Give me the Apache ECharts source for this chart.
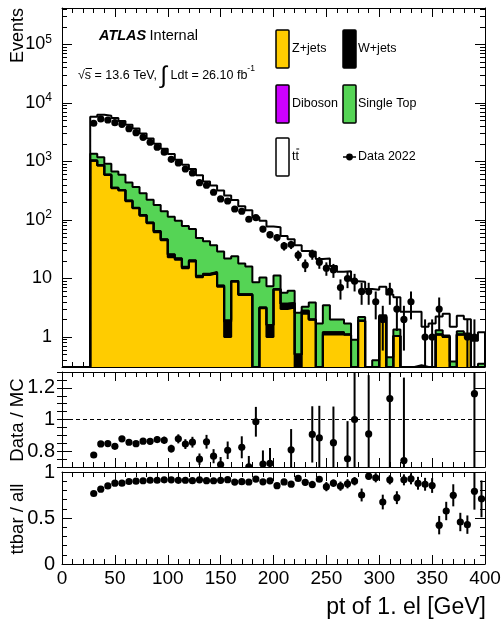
<!DOCTYPE html>
<html>
<head>
<meta charset="utf-8">
<script src="https://cdn.jsdelivr.net/npm/echarts@6.0.0/dist/echarts.min.js"></script>
<style>
  html, body { margin: 0; padding: 0; background: #fff; }
  #chart { width: 502px; height: 629px; }
</style>
</head>
<body>
<div id="chart"></div>
<script>
// Binning: 60 equal bins between 0 and 400 GeV, the arrays below start at bin 4
const X_MIN = 0, X_MAX = 400, N_BINS = 60, FIRST_BIN = 4;

// Event yields per bin (bins 4 ... 59)
const dataCounts = [4500, 5330, 5120, 4610, 4320, 3640, 3110, 2590, 2130, 1750,
  1440, 1090, 942, 744, 636, 434, 392, 298, 229, 211,
  154, 141, 103, 110, 70, 56, 50, 36, 38, 25,
  17, 26, 19, 15, 14, 7, 10, 9, 6, 6,
  4, 2, 6, 3, 2, 4, 0, 1, 1, 3,
  0, 0, 0, 1, 1, 0];
const zJets = [1030, 850, 590, 350, 320, 210, 158, 118, 88, 62,
  45, 23, 21, 15, 19.5, 10.5, 11.5, 12.3, 7.2, 1.0,
  8.8, 5.2, 5.2, 0, 3.1, 1.0, 6.4, 3.0, 3.2, 0,
  2.5, 2.0, 0, 1.1, 1.1, 1.1, 1.1, 0, 1.9, 0,
  0, 2.2, 0, 1.04, 0, 0, 0, 0, 0, 1.1,
  1.0, 0, 1.1, 1.05, 0, 0];
const wJets = [10, 8, 6, 5, 5, 4, 3, 3, 2, 2,
  1.5, 2.5, 0.8, 0.6, 0.6, 0.4, 0.4, 0.4, 0.3, 0.83,
  0.3, 0.2, 0.2, 0, 0.1, 0.6, 0.2, 0.7, 0.6, 0.5,
  0.3, 0, 0, 0.1, 0.1, 0.1, 0, 0, 0, 0,
  0, 0.05, 0, 0, 0, 0, 0, 0, 0, 0,
  0, 0, 0, 0, 0, 0];
const diboson = [2, 2, 2, 1.5, 1.5, 1, 1, 1, 0.8, 0.6,
  0.5, 0.5, 0.4, 0.3, 0.3, 0.2, 0.2, 0.2, 0.1, 0.1,
  0, 0, 0, 0, 0, 0, 0, 0, 0, 0,
  0, 0, 0, 0, 0, 0, 0, 0, 0, 0,
  0, 0, 0, 0, 0, 0, 0, 0, 0, 0,
  0, 0, 0, 0, 0, 0];
const singleTop = [315, 318, 314, 316, 269, 223, 205, 163, 131, 115,
  94, 88, 75, 63, 50, 38, 31, 24, 21.4, 20,
  15, 12.6, 10.6, 8.6, 7.2, 5.8, 4.6, 2.0, 2.4, 2.1,
  0.5, 1.9, 1.7, 2.3, 0.8, 0.8, 0.6, 0.9, 0.3, 0.3,
  0.4, 0.1, 0.45, 0.3, 0.23, 0.2, 0.33, 0.2, 0.25, 0.2,
  0.06, 0.38, 0.15, 0.1, 0.18, 0.35];
const ttbar = [4443, 5122, 5128, 4878, 4325, 3812, 3303, 2715, 2248, 1825,
  1516, 1222, 976, 802, 672, 530, 413, 351, 291, 240,
  196, 153, 131, 103, 87, 70, 64, 47.3, 40.8, 34.4,
  26.2, 24.8, 19.8, 18.5, 14.4, 11.0, 11.6, 8.1, 6.6, 6.3,
  6.0, 4.85, 4.85, 3.46, 2.47, 2.5, 2.37, 1.3, 1.45, 0.95,
  1.44, 1.12, 1.05, 0.86, 0.68, 0.85];
// Simulation statistical uncertainty on the ttbar fraction
const ttbarFracErr = [0.01, 0.01, 0.01, 0.01, 0.01, 0.01, 0.01, 0.01, 0.01, 0.01,
  0.01, 0.01, 0.01, 0.01, 0.01, 0.01, 0.01, 0.015, 0.015, 0.015,
  0.015, 0.015, 0.015, 0.015, 0.02, 0.02, 0.03, 0.025, 0.03, 0.025,
  0.035, 0.04, 0.03, 0.05, 0.04, 0.05, 0.05, 0.045, 0.07, 0.04,
  0.05, 0.08, 0.05, 0.07, 0.06, 0.06, 0.07, 0.07, 0.08, 0.1,
  0.1, 0.12, 0.1, 0.1, 0.2, 0.2];

// Axis ranges and tick labels
const Y_MIN = 0.307, Y_MAX = 4.2e5;
const logTickValues = [1, 10, 100, 1000, 10000, 100000];
const ratioRange = [0.7, 1.3];
const ratioTickValues = [0.8, 1, 1.2];
const fracRange = [0, 1];

const FONT = '"Liberation Sans", Arial, Helvetica, sans-serif';
const BLACK = '#000000';
const COLORS = { z: '#ffcc00', w: '#000000', db: '#cc00ff', st: '#55d455', tt: '#ffffff' };

const BIN_W = (X_MAX - X_MIN) / N_BINS;
const edge = i => X_MIN + (FIRST_BIN + i) * BIN_W;
const center = i => edge(i) + BIN_W / 2;

// Cumulative stack: Z+jets, W+jets, Diboson, Single Top, ttbar
const layers = [zJets, wJets, diboson, singleTop, ttbar];
const cum = [];
let running = zJets.map(() => 0);
layers.forEach(l => { running = running.map((v, i) => v + l[i]); cum.push(running); });
const mcTotal = cum[4];

// Minor ticks of the logarithmic axis
const logMinorValues = [];
for (let k = -1; k <= 5; k++) for (let m = 2; m <= 9; m++) {
  const v = m * Math.pow(10, k);
  if (v > Y_MIN && v < Y_MAX) logMinorValues.push(v);
}

const LEFT = 62, RIGHT = 17;
const PANELS = [ { top: 8, height: 359 }, { top: 372, height: 95 }, { top: 472, height: 92 } ];

const grids = [], xAxes = [], yAxes = [];
const tickLine = { color: BLACK, width: 1 };

function addGrid(p) {
  grids.push({ left: LEFT, right: RIGHT, top: p.top, height: p.height, containLabel: false, outerBoundsMode: 'none' });
  return grids.length - 1;
}
function xAxisCfg(g, pos, withLabels, visible) {
  if (!visible) return { type: 'value', gridIndex: g, min: X_MIN, max: X_MAX, show: false };
  return {
    type: 'value', gridIndex: g, position: pos, min: X_MIN, max: X_MAX, interval: 50,
    axisLine: { show: true, onZero: false, lineStyle: tickLine },
    axisTick: { show: true, inside: true, length: 9, lineStyle: tickLine },
    minorTick: { show: true, splitNumber: 5, length: 5, lineStyle: tickLine },
    splitLine: { show: false }, minorSplitLine: { show: false },
    axisLabel: withLabels
      ? { show: true, margin: 5, color: BLACK, fontFamily: FONT, fontSize: 19 }
      : { show: false }
  };
}
function logAxisCfg(g, pos, values, tickLen, withLine, withLabels) {
  return {
    type: 'log', logBase: 10, gridIndex: g, position: pos, min: Y_MIN, max: Y_MAX,
    axisLine: { show: withLine, onZero: false, lineStyle: tickLine },
    axisTick: { show: true, inside: true, length: tickLen, customValues: values, lineStyle: tickLine },
    minorTick: { show: false }, splitLine: { show: false },
    axisLabel: withLabels ? {
      show: true, margin: 10, customValues: values, color: BLACK, fontFamily: FONT, fontSize: 18,
      formatter: v => {
        const e = Math.round(Math.log10(v));
        return e === 0 ? '1' : e === 1 ? '10' : '10{sup|' + e + '}';
      },
      rich: { sup: { fontSize: 12, fontFamily: FONT, color: BLACK, verticalAlign: 'top', padding: [0, 0, 10, 0] } }
    } : { show: false }
  };
}
function linAxisCfg(g, pos, range, opts) {
  return Object.assign({
    type: 'value', gridIndex: g, position: pos, min: range[0], max: range[1],
    axisLine: { show: true, onZero: false, lineStyle: tickLine },
    splitLine: { show: false }, minorSplitLine: { show: false },
    axisLabel: { show: false }
  }, opts);
}

// Panel 1: yields on a log scale
const gTop = addGrid(PANELS[0]);
xAxes.push(xAxisCfg(gTop, 'bottom', false, true));
yAxes.push(logAxisCfg(gTop, 'left', logTickValues, 10, true, true));
const gTopR = addGrid(PANELS[0]);
xAxes.push(xAxisCfg(gTopR, 'top', false, true));
yAxes.push(logAxisCfg(gTopR, 'right', logTickValues, 10, true, false));
const gTopML = addGrid(PANELS[0]);
xAxes.push(xAxisCfg(gTopML, 'bottom', false, false));
yAxes.push(logAxisCfg(gTopML, 'left', logMinorValues, 5, false, false));
const gTopMR = addGrid(PANELS[0]);
xAxes.push(xAxisCfg(gTopMR, 'bottom', false, false));
yAxes.push(logAxisCfg(gTopMR, 'right', logMinorValues, 5, false, false));

// Panel 2: data / MC
const ratioLabel = {
  show: true, margin: 7, customValues: ratioTickValues, color: BLACK, fontFamily: FONT, fontSize: 20,
  formatter: v => String(Math.round(v * 10) / 10)
};
const gMid = addGrid(PANELS[1]);
xAxes.push(xAxisCfg(gMid, 'bottom', false, true));
yAxes.push(linAxisCfg(gMid, 'left', ratioRange, {
  axisTick: { show: true, inside: true, length: 10, customValues: ratioTickValues, lineStyle: tickLine },
  axisLabel: ratioLabel
}));
const gMidR = addGrid(PANELS[1]);
xAxes.push(xAxisCfg(gMidR, 'top', false, true));
yAxes.push(linAxisCfg(gMidR, 'right', ratioRange, {
  axisTick: { show: true, inside: true, length: 10, customValues: ratioTickValues, lineStyle: tickLine }
}));
const gMidML = addGrid(PANELS[1]);
xAxes.push(xAxisCfg(gMidML, 'bottom', false, false));
yAxes.push(linAxisCfg(gMidML, 'left', ratioRange, {
  interval: 0.05, axisLine: { show: false },
  axisTick: { show: true, inside: true, length: 5, lineStyle: tickLine }
}));
const gMidMR = addGrid(PANELS[1]);
xAxes.push(xAxisCfg(gMidMR, 'bottom', false, false));
yAxes.push(linAxisCfg(gMidMR, 'right', ratioRange, {
  interval: 0.05, axisLine: { show: false },
  axisTick: { show: true, inside: true, length: 5, lineStyle: tickLine }
}));

// Panel 3: ttbar fraction
const gBot = addGrid(PANELS[2]);
xAxes.push(xAxisCfg(gBot, 'bottom', true, true));
yAxes.push(linAxisCfg(gBot, 'left', fracRange, {
  interval: 0.5,
  axisTick: { show: true, inside: true, length: 10, lineStyle: tickLine },
  minorTick: { show: true, splitNumber: 5, length: 5, lineStyle: tickLine },
  axisLabel: { show: true, margin: 7, color: BLACK, fontFamily: FONT, fontSize: 20 }
}));
const gBotR = addGrid(PANELS[2]);
xAxes.push(xAxisCfg(gBotR, 'top', false, true));
yAxes.push(linAxisCfg(gBotR, 'right', fracRange, {
  interval: 0.5,
  axisTick: { show: true, inside: true, length: 10, lineStyle: tickLine },
  minorTick: { show: true, splitNumber: 5, length: 5, lineStyle: tickLine }
}));

// Step outline of a cumulative histogram layer, floored at the axis minimum
function stepPoints(vals) {
  const pts = [[X_MIN, Y_MIN], [edge(0), Y_MIN]];
  vals.forEach((v, i) => pts.push([edge(i), Math.max(v, Y_MIN)]));
  pts.push([edge(vals.length), Math.max(vals[vals.length - 1], Y_MIN)]);
  pts.push([edge(vals.length), Y_MIN]);
  return pts;
}
function stackSeries(name, vals, color) {
  return {
    name, type: 'line', xAxisIndex: gTop, yAxisIndex: gTop, data: stepPoints(vals),
    step: 'end', symbol: 'none', showSymbol: false, clip: true, silent: true, z: 2,
    lineStyle: { color: BLACK, width: 2 },
    areaStyle: { color, opacity: 1, origin: 'start' }
  };
}

// Marker with vertical error bar
function pointRenderer(r) {
  return function (params, api) {
    const x = api.value(0);
    const p = api.coord([x, api.value(1)]);
    const lo = api.coord([x, api.value(2)]);
    const hi = api.coord([x, api.value(3)]);
    return {
      type: 'group', children: [
        { type: 'line', shape: { x1: p[0], y1: lo[1], x2: p[0], y2: hi[1] }, style: { stroke: BLACK, lineWidth: 2 } },
        { type: 'circle', shape: { cx: p[0], cy: p[1], r }, style: { fill: BLACK } }
      ]
    };
  };
}

// Points whose central value falls outside a panel's range are not drawn
const yieldPoints = [], ratioPoints = [], fracPoints = [];
dataCounts.forEach((n, i) => {
  if (n > 0) {
    const e = Math.sqrt(n);
    yieldPoints.push([center(i), n, Math.max(n - e, Y_MIN * 0.5), n + e]);
    const r = n / mcTotal[i], er = e / mcTotal[i];
    if (r >= ratioRange[0] && r <= ratioRange[1]) ratioPoints.push([center(i), r, r - er, r + er]);
  }
});
ttbar.forEach((t, i) => {
  const f = t / mcTotal[i];
  fracPoints.push([center(i), f, f - ttbarFracErr[i], f + ttbarFracErr[i]]);
});

const series = [
  stackSeries('ttbar', cum[4], COLORS.tt),
  stackSeries('Single Top', cum[3], COLORS.st),
  stackSeries('Diboson', cum[2], COLORS.db),
  stackSeries('W+jets', cum[1], COLORS.w),
  stackSeries('Z+jets', cum[0], COLORS.z),
  {
    name: 'Data 2022', type: 'custom', xAxisIndex: gTop, yAxisIndex: gTop, data: yieldPoints,
    encode: { x: 0, y: 1 }, renderItem: pointRenderer(3.6), clip: true, silent: true, z: 5
  },
  {
    type: 'line', xAxisIndex: gMid, yAxisIndex: gMid, data: [[X_MIN, 1], [X_MAX, 1]],
    symbol: 'none', silent: true, z: 3, lineStyle: { color: BLACK, width: 1, type: [4, 3] }
  },
  {
    type: 'custom', xAxisIndex: gMid, yAxisIndex: gMid, data: ratioPoints,
    encode: { x: 0, y: 1 }, renderItem: pointRenderer(3.6), clip: true, silent: true, z: 5
  },
  {
    type: 'custom', xAxisIndex: gBot, yAxisIndex: gBot, data: fracPoints,
    encode: { x: 0, y: 1 }, renderItem: pointRenderer(3.6), clip: true, silent: true, z: 5
  }
];

// Legend and annotation texts
const legendFont = '12.5px ' + FONT;
function legendBox(x, y, fill) {
  return { type: 'rect', shape: { x, y, width: 13, height: 38, r: 1 }, style: { fill, stroke: BLACK, lineWidth: 1.5 }, z: 10 };
}
function legendText(x, y, text) {
  return { type: 'text', x, y, style: { text, font: legendFont, fill: BLACK, align: 'left', verticalAlign: 'middle' }, z: 10 };
}

const graphic = [
  legendBox(276, 30, COLORS.z), legendText(292, 49, 'Z+jets'),
  legendBox(343, 30, COLORS.w), legendText(358, 49, 'W+jets'),
  legendBox(276, 85, COLORS.db), legendText(292, 104, 'Diboson'),
  legendBox(343, 85, COLORS.st), legendText(358, 104, 'Single Top'),
  legendBox(276, 138, COLORS.tt), legendText(292, 157, 'tt'),
  { type: 'line', shape: { x1: 296.3, y1: 149, x2: 299.2, y2: 149 }, style: { stroke: BLACK, lineWidth: 1 }, z: 10 },
  { type: 'line', shape: { x1: 343, y1: 157, x2: 356, y2: 157 }, style: { stroke: BLACK, lineWidth: 1.5 }, z: 10 },
  { type: 'circle', shape: { cx: 349.5, cy: 157, r: 3.4 }, style: { fill: BLACK }, z: 10 },
  legendText(358, 157, 'Data 2022'),
  {
    type: 'text', x: 99, y: 36, z: 10,
    style: {
      text: '{a|ATLAS} {b|Internal}', verticalAlign: 'middle', align: 'left',
      rich: {
        a: { fontFamily: FONT, fontSize: 14.5, fontWeight: 'bold', fontStyle: 'italic', fill: BLACK },
        b: { fontFamily: FONT, fontSize: 14.5, fill: BLACK }
      }
    }
  },
  {
    type: 'text', x: 78, y: 76, z: 10,
    style: {
      text: '{t|√s = 13.6 TeV, }{i|∫}{t| Ldt = 26.10 fb}{s|-1}', verticalAlign: 'middle', align: 'left',
      rich: {
        t: { fontFamily: FONT, fontSize: 12.5, fill: BLACK },
        i: { fontFamily: FONT, fontSize: 24, fill: BLACK },
        s: { fontFamily: FONT, fontSize: 8.5, fill: BLACK, verticalAlign: 'top', padding: [0, 0, 9, 0] }
      }
    }
  },
  { type: 'line', shape: { x1: 85.5, y1: 68.5, x2: 92, y2: 68.5 }, style: { stroke: BLACK, lineWidth: 1 }, z: 10 },
  {
    type: 'text', x: 18, y: 8, rotation: Math.PI / 2, z: 10,
    style: { text: 'Events', font: '18px ' + FONT, fill: BLACK, align: 'right', verticalAlign: 'middle' }
  },
  {
    type: 'text', x: 18, y: 420, rotation: Math.PI / 2, z: 10,
    style: { text: 'Data / MC', font: '18.5px ' + FONT, fill: BLACK, align: 'center', verticalAlign: 'middle' }
  },
  {
    type: 'text', x: 18, y: 519, rotation: Math.PI / 2, z: 10,
    style: { text: 'ttbar / all', font: '18.5px ' + FONT, fill: BLACK, align: 'center', verticalAlign: 'middle' }
  },
  {
    type: 'text', x: 486, y: 608, z: 10,
    style: { text: 'pt of 1. el [GeV]', font: '23px ' + FONT, fill: BLACK, align: 'right', verticalAlign: 'middle' }
  }
];

const chart = echarts.init(document.getElementById('chart'), null, { renderer: 'canvas' });
chart.setOption({
  animation: false,
  backgroundColor: '#ffffff',
  textStyle: { fontFamily: FONT },
  grid: grids, xAxis: xAxes, yAxis: yAxes,
  series, graphic
});
</script>
</body>
</html>
